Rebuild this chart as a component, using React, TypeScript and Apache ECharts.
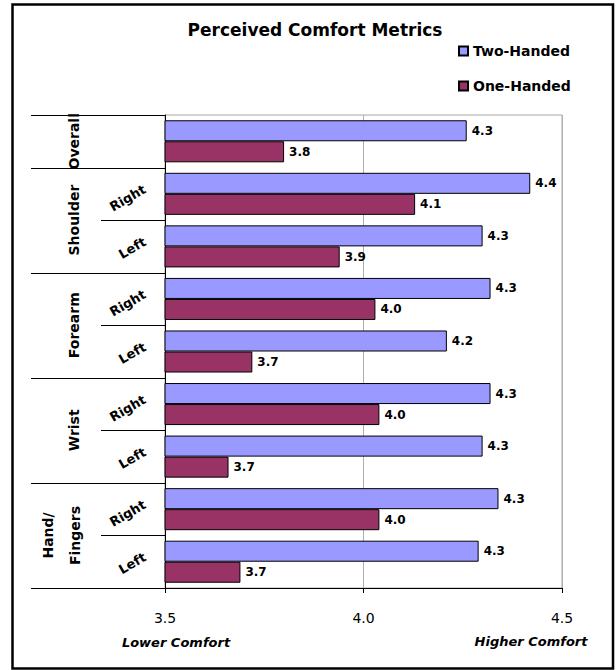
import React, { useEffect, useRef } from "react";
import * as echarts from "echarts";

const categories = [
  "Overall",
  "Shoulder|Right",
  "Shoulder|Left",
  "Forearm|Right",
  "Forearm|Left",
  "Wrist|Right",
  "Wrist|Left",
  "Hand/Fingers|Right",
  "Hand/Fingers|Left",
];
const groupNames = ["Overall", "Shoulder", "Forearm", "Wrist", "Hand/\nFingers"];
const groupSpans = [1, 2, 2, 2, 2];
const twoHanded = [4.26, 4.42, 4.3, 4.32, 4.21, 4.32, 4.3, 4.34, 4.29];
const oneHanded = [3.8, 4.13, 3.94, 4.03, 3.72, 4.04, 3.66, 4.04, 3.69];
const seriesNames = ["Two-Handed", "One-Handed"];
const xMin = 3.5;
const xMax = 4.5;
const xStep = 0.5;

const FONT = "DejaVu Sans";
const W = 616;
const H = 670;
const GRID_LEFT = 165;
const GRID_TOP = 115;
const GRID_RIGHT_X = 562;
const GRID_BOTTOM_Y = 588;

export default function App() {
  const ref = useRef<HTMLDivElement>(null);
  useEffect(() => {
    document.body.style.margin = "0";
    document.documentElement.style.overflow = "hidden";
    const chart = echarts.init(ref.current!, null, { renderer: "svg" });
    const gridH = GRID_BOTTOM_Y - GRID_TOP;
    const rowH = gridH / categories.length;

    const graphics: any[] = [];
    // outer frame
    graphics.push({
      type: "rect",
      shape: { x: 12.5, y: 4.5, width: 600.5, height: 664 },
      style: { fill: "none", stroke: "#000", lineWidth: 2.5 },
      silent: true,
    });
    // group boundaries and labels
    let idx = 0;
    const outerBounds = [0];
    const innerBounds: number[] = [];
    groupNames.forEach((g, gi) => {
      const span = groupSpans[gi];
      for (let k = 1; k < span; k++) innerBounds.push(idx + k);
      const cy = GRID_TOP + (idx + span / 2) * rowH;
      const multi = g.includes("\n");
      graphics.push({
        type: "text",
        x: multi ? 61 : 74,
        y: cy,
        rotation: Math.PI / 2,
        style: {
          text: g,
          align: "center",
          verticalAlign: "middle",
          font: `bold 14px "${FONT}"`,
          lineHeight: 27,
          fill: "#000",
        },
        silent: true,
      });
      idx += span;
      outerBounds.push(idx);
    });
    outerBounds.forEach((b) => {
      const y = Math.round(GRID_TOP + b * rowH) + 0.5;
      graphics.push({
        type: "line",
        shape: { x1: 31, y1: y, x2: GRID_LEFT, y2: y },
        style: { stroke: "#000", lineWidth: 1 },
        silent: true,
      });
    });
    innerBounds.forEach((b) => {
      const y = Math.round(GRID_TOP + b * rowH) + 0.5;
      graphics.push({
        type: "line",
        shape: { x1: 101, y1: y, x2: GRID_LEFT, y2: y },
        style: { stroke: "#000", lineWidth: 1 },
        silent: true,
      });
    });
    // axis end captions
    graphics.push({
      type: "text",
      x: 176,
      y: 642,
      style: {
        text: "Lower Comfort",
        align: "center",
        verticalAlign: "middle",
        font: `italic bold 13px "${FONT}"`,
        fill: "#000",
      },
      silent: true,
    });
    graphics.push({
      type: "text",
      x: 531,
      y: 641,
      style: {
        text: "Higher Comfort",
        align: "center",
        verticalAlign: "middle",
        font: `italic bold 13px "${FONT}"`,
        fill: "#000",
      },
      silent: true,
    });

    const labelCfg = {
      show: true,
      position: "right",
      distance: 5,
      fontFamily: FONT,
      fontWeight: "bold",
      fontSize: 12,
      color: "#000",
      formatter: (p: any) => Number(p.value).toFixed(1),
    };

    chart.setOption({
      animation: false,
      backgroundColor: "#fff",
      title: {
        text: "Perceived Comfort Metrics",
        left: 310,
        textAlign: "center",
        top: 16,
        textStyle: { fontFamily: FONT, fontWeight: "bold", fontSize: 17, color: "#000" },
      },
      legend: {
        orient: "vertical",
        left: 458,
        top: 43,
        padding: 0,
        itemWidth: 9,
        itemHeight: 9,
        itemGap: 19,
        icon: "rect",
        textStyle: { fontFamily: FONT, fontWeight: "bold", fontSize: 14, color: "#000", lineHeight: 16 },
        data: seriesNames,
      },
      grid: {
        left: GRID_LEFT,
        top: GRID_TOP,
        right: W - GRID_RIGHT_X,
        bottom: H - GRID_BOTTOM_Y,
        show: true,
        borderColor: "#a6a6a6",
        borderWidth: 1,
        containLabel: false,
      },
      xAxis: {
        type: "value",
        min: xMin,
        max: xMax,
        interval: xStep,
        axisLine: { show: true, lineStyle: { color: "#000", width: 1 } },
        axisTick: { show: true, length: 5, lineStyle: { color: "#000" } },
        axisLabel: {
          fontFamily: FONT,
          fontSize: 14,
          color: "#000",
          margin: 23,
          formatter: (v: number) => v.toFixed(1),
        },
        splitLine: { show: true, lineStyle: { color: "#b0b0b0", width: 1 } },
      },
      yAxis: {
        type: "category",
        inverse: true,
        data: categories,
        axisLine: { show: true, lineStyle: { color: "#000", width: 1 } },
        axisTick: { show: false },
        axisLabel: {
          rotate: 30,
          margin: 17,
          fontFamily: FONT,
          fontWeight: "bold",
          fontSize: 13,
          color: "#000",
          verticalAlign: "bottom",
          formatter: (v: string) => v.split("|")[1] || "",
        },
        splitLine: { show: false },
      },
      series: [
        {
          name: seriesNames[0],
          type: "bar",
          data: twoHanded,
          barGap: "0%",
          barCategoryGap: "20%",
          itemStyle: { color: "#9999ff", borderColor: "#000", borderWidth: 1 },
          label: labelCfg,
        },
        {
          name: seriesNames[1],
          type: "bar",
          data: oneHanded,
          barGap: "0%",
          barCategoryGap: "20%",
          itemStyle: { color: "#993366", borderColor: "#000", borderWidth: 1 },
          label: labelCfg,
        },
      ],
      graphic: graphics,
    });
    return () => chart.dispose();
  }, []);
  return <div ref={ref} style={{ width: W, height: H }} />;
}
